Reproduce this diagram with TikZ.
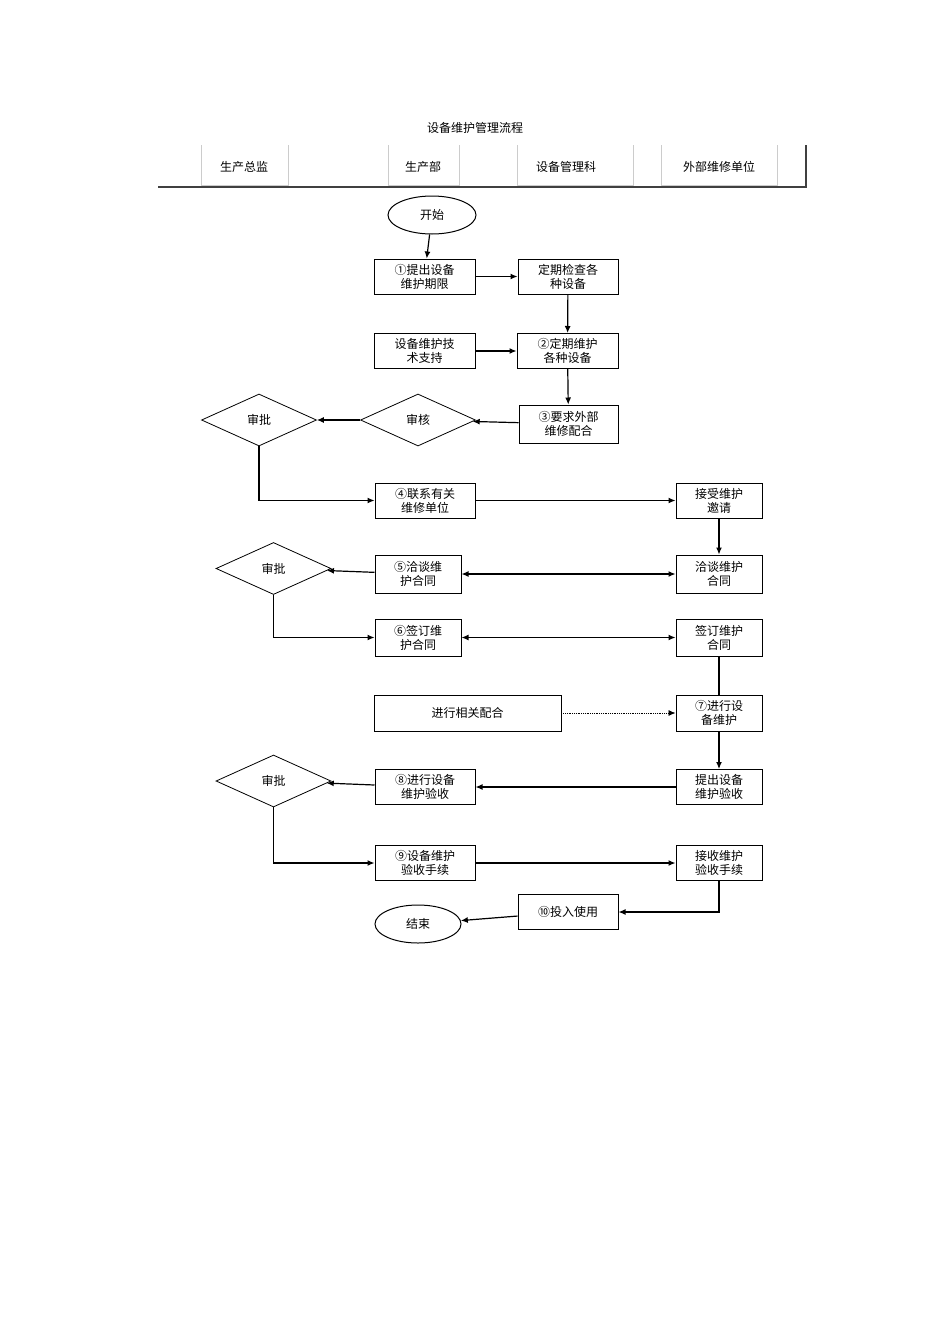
\documentclass[tikz,border=0pt]{standalone}
\usepackage{fontspec}
\setmainfont{Liberation Serif}
\newfontfamily\cjk{Noto Sans CJK SC}
\usetikzlibrary{shapes.geometric,arrows.meta}
\begin{document}
\begin{tikzpicture}[x=1pt,y=-1pt,
    font=\cjk\fontsize{12}{14}\selectfont,
    box/.style={draw=black, line width=1pt, minimum width=#1, minimum height=35pt, align=center, inner sep=1pt},
    box/.default=100pt,
    dec/.style={draw=black, line width=.8pt, diamond, aspect=2.3, minimum width=115pt, minimum height=52pt, inner sep=0pt},
    term/.style={draw=black, line width=1pt, ellipse, minimum width=#1, minimum height=38pt},
    lane/.style={draw=gray!40, line width=.6pt},
    flow/.style={line width=1.2pt, -{Latex[length=7pt,width=6pt]}},
    both/.style={line width=1.2pt, {Latex[length=7pt,width=6pt]}-{Latex[length=7pt,width=6pt]}}]
    \useasboundingbox (0,0) rectangle (950,1344);
    \node (title) at (475,128) {设备维护管理流程};
    % swimlane header
    \draw[lane] (201,145) |- (288,185) -- (288,145);
    \draw[lane] (388,145) |- (459,185) -- (459,145);
    \draw[lane] (517,145) |- (633,185) -- (633,145);
    \draw[lane] (661,145) |- (777,185) -- (777,145);
    \node (l1) at (244,167) {生产总监};
    \node (l2) at (423,167) {生产部};
    \node (l3) at (566,167) {设备管理科};
    \node (l4) at (719,167) {外部维修单位};
    \draw[line width=1.3pt, black!75] (158,187) -- (806,187) -- (806,145);
    % nodes
    \node[term=88pt] (start) at (432,215) {开始};
    \node[box=101pt] (s1) at (424.5,276.5) {①提出设备\\维护期限};
    \node[box] (check) at (568,276.5) {定期检查各\\种设备};
    \node[box=101pt] (tech) at (424.5,351) {设备维护技\\术支持};
    \node[box=101pt] (s2) at (567.5,351) {②定期维护\\各种设备};
    \node[box=99pt, minimum height=38pt] (s3) at (568.5,424) {③要求外部\\维修配合};
    \node[dec] (audit) at (418,420) {审核};
    \node[dec] (ok1) at (259,420) {审批};
    \node[box] (s4) at (425,500.5) {④联系有关\\维修单位};
    \node[box=86pt] (accept) at (719,500.5) {接受维护\\邀请};
    \node[dec] (ok2) at (273.5,568.5) {审批};
    \node[box=86pt, minimum height=38pt] (s5) at (418,574) {⑤洽谈维\\护合同};
    \node[box=86pt, minimum height=38pt] (talk) at (719,574) {洽谈维护\\合同};
    \node[box=86pt, minimum height=37pt] (s6) at (418,637.5) {⑥签订维\\护合同};
    \node[box=86pt, minimum height=37pt] (sign) at (719,637.5) {签订维护\\合同};
    \node[draw=black, line width=.6pt, minimum width=187pt, minimum height=36pt] (help) at (467.5,713) {进行相关配合};
    \node[box=86pt, minimum height=36pt] (s7) at (719,713) {⑦进行设\\备维护};
    \node[dec] (ok3) at (273.5,781) {审批};
    \node[box] (s8) at (425,787) {⑧进行设备\\维护验收};
    \node[box=86pt] (raise) at (719,787) {提出设备\\维护验收};
    \node[box] (s9) at (425,863) {⑨设备维护\\验收手续};
    \node[box=86pt] (recv) at (719,863) {接收维护\\验收手续};
    \node[box] (s10) at (568,912) {⑩投入使用};
    \node[term=86pt] (stop) at (418,924) {结束};
    % connectors
    \draw[flow] (start) -- (s1);
    \draw[flow] (s1) -- (check);
    \draw[flow] (check) -- (s2);
    \draw[flow] (tech) -- (s2);
    \draw[flow] (s2) -- (s3);
    \draw[flow] (s3) -- (audit);
    \draw[flow] (audit) -- (ok1);
    \draw[flow] (ok1.south) |- (s4.west);
    \draw[flow] (s4) -- (accept);
    \draw[flow] (accept) -- (talk);
    \draw[both] (s5) -- (talk);
    \draw[flow] (s5) -- (ok2);
    \draw[flow] (ok2.south) |- (s6.west);
    \draw[both] (s6) -- (sign);
    \draw[line width=1.2pt] (sign) -- (s7);
    \draw[densely dotted, line width=.8pt, -{Latex[length=7pt,width=6pt]}] (help) -- (s7);
    \draw[flow] (s7) -- (raise);
    \draw[flow] (raise) -- (s8);
    \draw[flow] (s8) -- (ok3);
    \draw[flow] (ok3.south) |- (s9.west);
    \draw[flow] (s9) -- (recv);
    \draw[flow] (recv.south) |- (s10.east);
    \draw[flow] (s10) -- (stop);
\end{tikzpicture}
\end{document}
